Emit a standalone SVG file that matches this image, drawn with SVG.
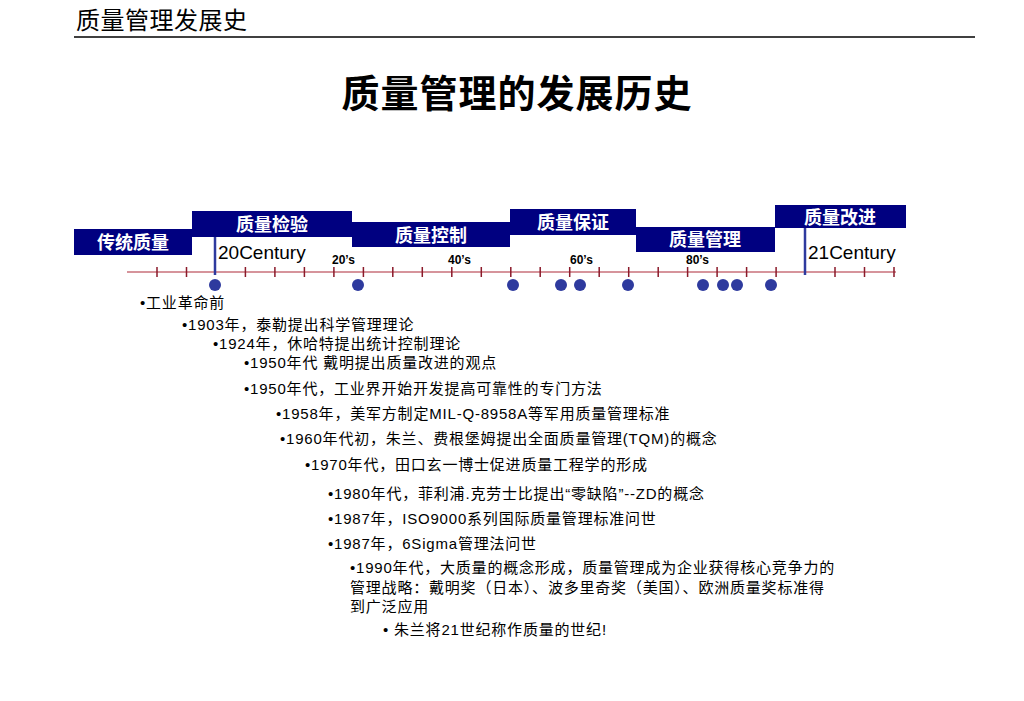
<svg xmlns="http://www.w3.org/2000/svg" width="1024" height="701" viewBox="0 0 1024 701">
<style>
.b{fill:#000080}
.bt{font-family:"Noto Sans CJK SC",sans-serif;font-weight:bold;font-size:18px;fill:#fff;text-anchor:middle}
.t{font-family:"Liberation Sans","Noto Sans CJK SC",sans-serif;font-size:15px;letter-spacing:0.8px;fill:#000}
.lab{font-family:"Liberation Sans",sans-serif;font-size:12px;font-weight:bold}
.c{font-family:"Liberation Sans",sans-serif;font-size:19px}
.d{fill:#2e3a9e}
</style>
<rect width="1024" height="701" fill="#fff"/>
<text x="76" y="29" font-family="Noto Sans CJK SC,sans-serif" font-size="24" letter-spacing="0.5">质量管理发展史</text>
<line x1="74" y1="37" x2="975" y2="37" stroke="#000" stroke-width="1.5"/>
<text x="517" y="107" text-anchor="middle" font-family="Noto Sans CJK SC,sans-serif" font-size="38" font-weight="bold" letter-spacing="1">质量管理的发展历史</text>
<g id="bars">
<rect class="b" x="74" y="229" width="118" height="26"/><text class="bt" x="133" y="249">传统质量</text>
<rect class="b" x="192" y="211" width="160" height="26"/><text class="bt" x="272" y="231">质量检验</text>
<rect class="b" x="352" y="222" width="158" height="25"/><text class="bt" x="431" y="242">质量控制</text>
<rect class="b" x="510" y="209" width="126" height="26"/><text class="bt" x="573" y="229">质量保证</text>
<rect class="b" x="636" y="227" width="139" height="25"/><text class="bt" x="705" y="246">质量管理</text>
<rect class="b" x="775" y="205" width="131" height="23"/><text class="bt" x="840" y="224">质量改进</text>
</g>
<g id="axis">
<line x1="127" y1="272" x2="896" y2="272" stroke="#c9707a" stroke-width="1.5"/>
<g stroke="#8b1a2a" stroke-width="1.5">
<path d="M157 267v10M186.5 267v10M245.4 267v10M274.9 267v10M304.4 267v10M333.9 267v10M363.4 267v10M392.8 267v10M422.3 267v10M451.8 267v10M481.3 267v10M510.8 267v10M540.2 267v10M569.7 267v10M599.2 267v10M628.7 267v10M658.2 267v10M687.6 267v10M717.1 267v10M746.6 267v10M776.1 267v10M835 267v10M864.5 267v10M894 267v10"/>
</g>
<line x1="215" y1="237" x2="215" y2="275" stroke="#2e3a9e" stroke-width="2.5"/>
<line x1="805" y1="228" x2="805" y2="275" stroke="#2e3a9e" stroke-width="2.5"/>
<text class="c" x="218" y="259">20Century</text>
<text class="c" x="808" y="259">21Century</text>
<text class="lab" x="332" y="264">20’s</text>
<text class="lab" x="448" y="264">40’s</text>
<text class="lab" x="570" y="264">60’s</text>
<text class="lab" x="686" y="264">80’s</text>
</g>
<g id="dots">
<circle class="d" cx="215" cy="285" r="6"/><circle class="d" cx="358" cy="285" r="6"/>
<circle class="d" cx="513" cy="285" r="6"/><circle class="d" cx="561" cy="285" r="6"/>
<circle class="d" cx="580" cy="285" r="6"/><circle class="d" cx="628" cy="285" r="6"/>
<circle class="d" cx="703" cy="285" r="6"/><circle class="d" cx="723" cy="285" r="6"/>
<circle class="d" cx="737" cy="285" r="6"/><circle class="d" cx="771" cy="285" r="6"/>
</g>
<g id="events">
<text class="t" x="140" y="308">•工业革命前</text>
<text class="t" x="182" y="330">•1903年，泰勒提出科学管理理论</text>
<text class="t" x="213" y="349">•1924年，休哈特提出统计控制理论</text>
<text class="t" x="244" y="368">•1950年代 戴明提出质量改进的观点</text>
<text class="t" x="244" y="394">•1950年代，工业界开始开发提高可靠性的专门方法</text>
<text class="t" x="276" y="419">•1958年，美军方制定MIL-Q-8958A等军用质量管理标准</text>
<text class="t" x="280" y="444">•1960年代初，朱兰、费根堡姆提出全面质量管理(TQM)的概念</text>
<text class="t" x="305" y="470">•1970年代，田口玄一博士促进质量工程学的形成</text>
<text class="t" x="328" y="499">•1980年代，菲利浦.克劳士比提出“零缺陷”--ZD的概念</text>
<text class="t" x="328" y="524">•1987年，ISO9000系列国际质量管理标准问世</text>
<text class="t" x="328" y="549">•1987年，6Sigma管理法问世</text>
<text class="t" x="350" y="573">•1990年代，大质量的概念形成，质量管理成为企业获得核心竞争力的</text>
<text class="t" x="350" y="593">管理战略：戴明奖（日本）、波多里奇奖（美国）、欧洲质量奖标准得</text>
<text class="t" x="350" y="612">到广泛应用</text>
<text class="t" x="383" y="635">• 朱兰将21世纪称作质量的世纪!</text>
</g>
</svg>
